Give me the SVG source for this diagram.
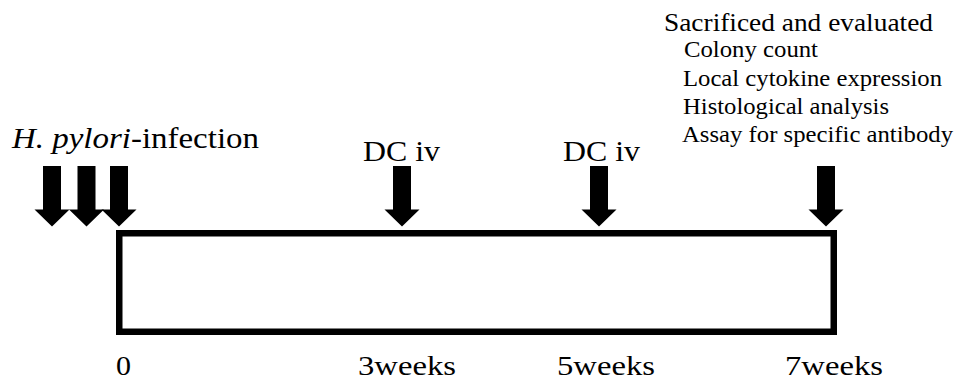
<svg xmlns="http://www.w3.org/2000/svg" xmlns:xlink="http://www.w3.org/1999/xlink" width="956" height="381" viewBox="0 0 956 381">
  <style>
    text { font-family: "Times New Roman", "Liberation Serif", Times, serif; fill: #000; }
    .lbl { font-size: 29px; }
    .hd { font-size: 26px; }
    .item { font-size: 24px; }
    .tick { font-size: 28px; }
    .box { fill: #fff; stroke: #000; stroke-width: 6.5; }
    .arrow { fill: #000; }
  </style>
  <defs>
    <!-- block arrow pointing down, centred on x=0 -->
    <path id="downArrow" d="M-9,166 H9 V209.5 H17.5 L0,226.5 L-17.5,209.5 H-9 Z"/>
  </defs>

  <!-- timeline bar -->
  <g id="timeline">
    <rect class="box" x="119.25" y="233.25" width="714.5" height="98.5"/>
  </g>

  <!-- arrows marking each event on the timeline -->
  <g id="connectors" class="arrow">
    <use xlink:href="#downArrow" x="52"/>
    <use xlink:href="#downArrow" x="86.5"/>
    <use xlink:href="#downArrow" x="119"/>
    <use xlink:href="#downArrow" x="402"/>
    <use xlink:href="#downArrow" x="599"/>
    <use xlink:href="#downArrow" x="826"/>
  </g>

  <g id="infection">
    <text class="lbl" x="12" y="148" textLength="247" lengthAdjust="spacingAndGlyphs"><tspan font-style="italic">H. pylori</tspan>-infection</text>
  </g>

  <g id="dc-week3">
    <text class="lbl" x="363" y="161" textLength="77" lengthAdjust="spacingAndGlyphs">DC iv</text>
  </g>

  <g id="dc-week5">
    <text class="lbl" x="563" y="161" textLength="77" lengthAdjust="spacingAndGlyphs">DC iv</text>
  </g>

  <g id="evaluation">
    <text class="hd" x="664" y="31" textLength="269" lengthAdjust="spacingAndGlyphs">Sacrificed and evaluated</text>
    <text class="item" x="684" y="57" textLength="134" lengthAdjust="spacingAndGlyphs">Colony count</text>
    <text class="item" x="683" y="86" textLength="259" lengthAdjust="spacingAndGlyphs">Local cytokine expression</text>
    <text class="item" x="683" y="114" textLength="206" lengthAdjust="spacingAndGlyphs">Histological analysis</text>
    <text class="item" x="682" y="142" textLength="271" lengthAdjust="spacingAndGlyphs">Assay for specific antibody</text>
  </g>

  <g id="time-axis">
    <text class="tick" x="116" y="375" textLength="15" lengthAdjust="spacingAndGlyphs">0</text>
    <text class="tick" x="358" y="375" textLength="98" lengthAdjust="spacingAndGlyphs">3weeks</text>
    <text class="tick" x="557" y="375" textLength="98" lengthAdjust="spacingAndGlyphs">5weeks</text>
    <text class="tick" x="785" y="375" textLength="98" lengthAdjust="spacingAndGlyphs">7weeks</text>
  </g>
</svg>
